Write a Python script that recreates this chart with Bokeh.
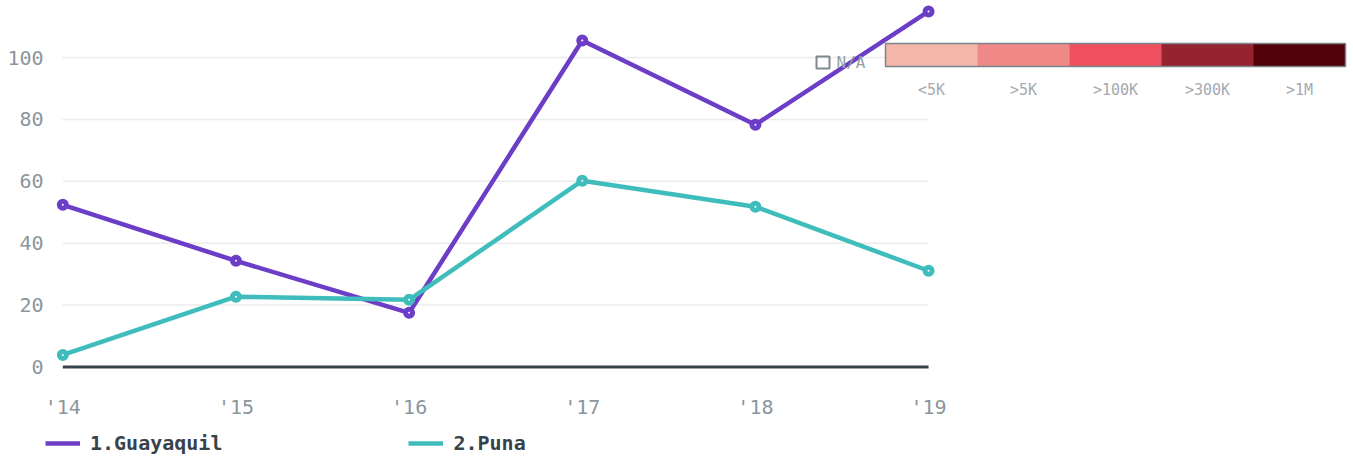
from bokeh.plotting import figure
from bokeh.layouts import column
from bokeh.models import (FixedTicker, Legend, LegendItem, ColorBar,
                          LinearColorMapper, Label, BoxAnnotation)
from bokeh.embed import file_html
from bokeh.resources import INLINE

# ---------------- data ----------------
years = [2014, 2015, 2016, 2017, 2018, 2019]
year_labels = ["'14", "'15", "'16", "'17", "'18", "'19"]
guayaquil = [52.4, 34.3, 17.5, 105.5, 78.3, 114.9]
puna = [3.9, 22.7, 21.7, 60.2, 51.8, 31.1]
series_names = ["1.Guayaquil", "2.Puna"]
series_colors = ["#6c3ec8", "#3fbcbc"]
y_ticks = [0, 20, 40, 60, 80, 100]
scale_labels = ["<5K", ">5K", ">100K", ">300K", ">1M"]
scale_colors = ["#f4b5ab", "#f08887", "#ef5060", "#952330", "#520009"]
na_text = "N/A"

MONO = "DejaVu Sans Mono"
TICK_GRAY = "#8a969c"
DARK = "#37434b"

p = figure(
    frame_width=1300, frame_height=372,
    x_range=(2013.900, 2021.408), y_range=(-1.78, 118.42),
    output_backend="svg", toolbar_location=None,
    min_border_left=45, min_border_right=8, min_border_top=0, min_border_bottom=53,
    outline_line_color=None,
)
p.xgrid.visible = False
p.ygrid.visible = False

# axes
p.yaxis.ticker = FixedTicker(ticks=y_ticks)
p.yaxis.axis_line_color = None
p.yaxis.major_tick_line_color = None
p.yaxis.minor_tick_line_color = None
p.yaxis.major_tick_out = 0
p.yaxis.major_tick_in = 0
p.yaxis.major_label_standoff = 2
p.yaxis.major_label_text_font = MONO
p.yaxis.major_label_text_font_size = "20px"
p.yaxis.major_label_text_color = TICK_GRAY

p.xaxis.ticker = FixedTicker(ticks=years)
p.xaxis.major_label_overrides = dict(zip(years, year_labels))
p.xaxis.axis_line_color = None
p.xaxis.major_tick_line_color = None
p.xaxis.minor_tick_line_color = None
p.xaxis.major_tick_out = 0
p.xaxis.major_tick_in = 0
p.xaxis.major_label_standoff = 22
p.xaxis.major_label_text_font = MONO
p.xaxis.major_label_text_font_size = "20px"
p.xaxis.major_label_text_color = TICK_GRAY

# gridlines limited to data span
grid_y = [t for t in y_ticks if t != 0]
p.segment(x0=[years[0]] * len(grid_y), x1=[years[-1]] * len(grid_y),
          y0=grid_y, y1=grid_y, line_color="#ebebeb", line_width=1.5)
# zero baseline
p.segment(x0=[years[0]], x1=[years[-1]], y0=[0], y1=[0],
          line_color=DARK, line_width=3)

for name, vals, col in zip(series_names, [guayaquil, puna], series_colors):
    p.line(years, vals, line_color=col, line_width=4.5)
    p.scatter(years, vals, size=7, line_width=5, line_color=col, fill_color="white")

# colour scale legend
mapper = LinearColorMapper(palette=scale_colors, low=0, high=len(scale_colors))
centers = [i + 0.5 for i in range(len(scale_colors))]
cb = ColorBar(color_mapper=mapper, orientation="horizontal", location=(840, 271),
              width=460, height=23, padding=0, margin=0,
              ticker=FixedTicker(ticks=centers),
              major_label_overrides=dict(zip(centers, scale_labels)),
              major_tick_line_color=None, minor_tick_line_color=None,
              bar_line_color="#7a8589", bar_line_width=1.5,
              major_label_text_font=MONO, major_label_text_font_size="15px",
              major_label_text_color="#a3abb0", label_standoff=14,
              background_fill_alpha=0, border_line_color=None)
p.add_layout(cb, "center")

na_box = BoxAnnotation(left=771, right=784, bottom=304, top=316,
                       left_units="screen", right_units="screen",
                       bottom_units="screen", top_units="screen",
                       fill_alpha=0, line_color="#7f8a8e", line_alpha=1.0,
                       line_width=2)
p.add_layout(na_box)
na_lbl = Label(x=791, y=310, x_units="screen", y_units="screen", text=na_text,
               text_font=MONO, text_font_size="16px", text_color="#95a0a5",
               text_baseline="middle", text_align="left")
p.add_layout(na_lbl)

# ---------------- legend strip ----------------
# series lines are drawn here out of view, only so the legend has swatches
lg = figure(width=1353, height=32, x_range=(0, 1), y_range=(0, 1),
            output_backend="svg", toolbar_location=None,
            min_border=0, outline_line_color=None)
lg.xaxis.visible = False
lg.yaxis.visible = False
lg.xgrid.visible = False
lg.ygrid.visible = False
items = []
for name, vals, col in zip(series_names, [guayaquil, puna], series_colors):
    r = lg.line(years, vals, line_color=col, line_width=4.5)
    items.append(LegendItem(label=name, renderers=[r]))
legend = Legend(items=items, orientation="horizontal", location=(0, 2),
                spacing=186, padding=0, margin=0, glyph_width=35, glyph_height=20,
                label_standoff=10, label_text_font=MONO, label_text_font_style="bold",
                label_text_font_size="20px", label_text_color=DARK,
                border_line_color=None, background_fill_alpha=0)
lg.add_layout(legend, "center")

layout = column(p, lg, spacing=0)
open("out.html", "w").write(file_html(layout, INLINE))
